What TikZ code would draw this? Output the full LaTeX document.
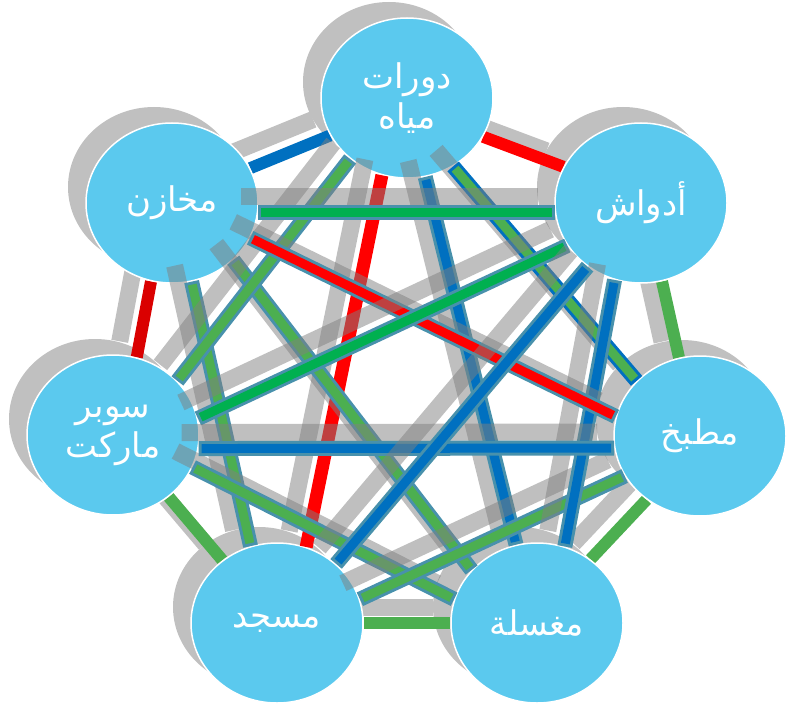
\documentclass[tikz,border=0pt]{standalone}
\usepackage{fontspec}
\newfontfamily\arabicfont[Script=Arabic]{DejaVu Sans}
\TeXXeTstate=1
\usetikzlibrary{shapes.geometric}
\definecolor{cfill}{RGB}{91,201,238}
\definecolor{shgray}{RGB}{192,192,192}
\definecolor{lred}{RGB}{255,0,0}
\definecolor{dred}{RGB}{218,0,0}
\definecolor{lblue}{RGB}{0,112,192}
\definecolor{lgreen}{RGB}{76,175,80}
\definecolor{bgreen}{RGB}{0,176,80}
\definecolor{olc}{RGB}{72,145,172}
\pgfdeclarelayer{lshadow}
\pgfdeclarelayer{ledge}
\pgfsetlayers{lshadow,ledge,main}
\begin{document}
\begin{tikzpicture}[x=1pt,y=-1pt,
  nd/.style={ellipse, minimum width=172pt, minimum height=160pt, inner sep=0pt,
    fill=cfill, draw=white, line width=1.5pt, text=white,
    font=\arabicfont\fontsize{34}{40}\selectfont, align=center},
  ndsh/.style={ellipse, minimum width=172pt, minimum height=160pt, inner sep=0pt,
    fill=shgray},
  oshd/.style={draw=shgray, line width=17pt, transform canvas={shift={(-17pt,16pt)}}},
  oedge/.style={line width=12pt},
  shd/.style={draw=black!50, draw opacity=0.5, line width=17pt,
    transform canvas={shift={(-17pt,16pt)}}},
  outl/.style={line width=15pt},
  inr/.style={line width=9pt, shorten <=3pt, shorten >=3pt}
]
\useasboundingbox (0,0) rectangle (787,706);

\node[nd] (n0) at (407,98) {\beginR دورات\endR\\\beginR مياه\endR};
\node[nd] (n1) at (641,203) {\beginR أدواش\endR};
\node[nd] (n2) at (700,436) {\beginR مطبخ\endR};
\node[nd] (n3) at (537,623) {\beginR مغسلة\endR};
\node[nd] (n4) at (277,623) {\beginR مسجد\endR};
\node[nd] (n5) at (113,435) {\beginR سوبر\endR\\\beginR ماركت\endR};
\node[nd] (n6) at (172,203) {\beginR مخازن\endR};

\begin{pgfonlayer}{lshadow}
\node[ndsh] (s0) at (389,82) {};
\node[ndsh] (s1) at (623,187) {};
\node[ndsh] (s2) at (682,420) {};
\node[ndsh] (s3) at (519,607) {};
\node[ndsh] (s4) at (259,607) {};
\node[ndsh] (s5) at (95,419) {};
\node[ndsh] (s6) at (154,187) {};
\end{pgfonlayer}

\begin{pgfonlayer}{ledge}
\foreach \a/\b/\c in {n0.-27/n1.155/lred, n1.-75/n2.105/lgreen,
    n2.230/n3.50/lgreen, n3.180/n4.0/lgreen, n4.131/n5.-48/lgreen,
    n5.73/n6.-105/dred, n6.24/n0.206/lblue}{
  \draw[oshd] (\a) -- (\b);
  \draw[oedge, draw=\c] (\a) -- (\b);
}
\end{pgfonlayer}

% inner connectors
\draw[shd] (n0.-108) -- (n4.69);
\draw[line width=13pt, draw=lred] (n0.-108) -- (n4.69);
\foreach \a/\b/\c/\o in {n0.-77/n3.105/lblue/olc, n6.-76/n4.109/lgreen/olc,
    n6.-43/n3.141/lgreen/olc, n5.-22/n3.164/lgreen/olc, n2.208/n4.16/lgreen/olc,
    n0.227/n5.40/lgreen/olc, n0.-56/n2.139/lgreen/lblue,
    n1.251/n3.70/lblue/olc, n6.-24/n2.167/lred/olc, n1.186/n6.-6/bgreen/olc,
    n1.210/n5.11/bgreen/olc, n2.188/n5.-9/lblue/olc, n1.230/n4.45/lblue/olc}{
  \draw[shd] (\a) -- (\b);
  \draw[outl, draw=\o] (\a) -- (\b);
  \draw[inr, draw=\c] (\a) -- (\b);
}
\end{tikzpicture}
\end{document}
